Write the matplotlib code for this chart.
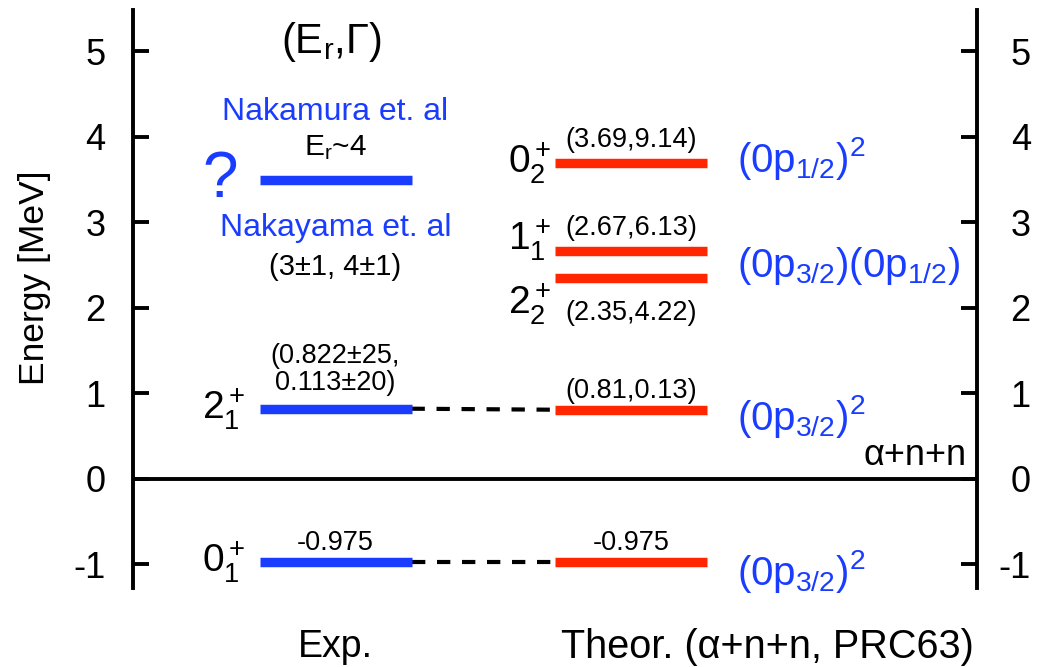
import matplotlib
matplotlib.use("Agg")
import matplotlib.pyplot as plt
import matplotlib.transforms as mtransforms

plt.rcParams['font.family'] = ['Liberation Sans', 'DejaVu Sans']
plt.rcParams['mathtext.fontset'] = 'custom'
plt.rcParams['mathtext.rm'] = 'Liberation Sans'
plt.rcParams['mathtext.it'] = 'Liberation Sans'
plt.rcParams['mathtext.bf'] = 'Liberation Sans:bold'

# ---- data -------------------------------------------------------------
# Experimental levels (MeV)
exp_energies = [-0.975, 0.822, 3.5]
exp_spins = [r'$0^+_1$', r'$2^+_1$', None]
exp_values = ['-0.975', '(0.822±25,\n0.113±20)', None]

# Theoretical levels (alpha+n+n model): resonance energy and width (MeV)
theo_energies = [-0.975, 0.81, 2.35, 2.67, 3.69]
theo_widths = [None, 0.13, 4.22, 6.13, 9.14]
theo_spins = [r'$0^+_1$', None, r'$2^+_2$', r'$1^+_1$', r'$0^+_2$']
theo_configs = [r'$(0p_{3/2})^2$', r'$(0p_{3/2})^2$',
                None, r'$(0p_{3/2})(0p_{1/2})$', r'$(0p_{1/2})^2$']

# pairs of (experimental, theoretical) levels joined by a dashed line
links = [(0, 0), (1, 1)]

yticks = [-1, 0, 1, 2, 3, 4, 5]

# ---- style ------------------------------------------------------------
BLUE = '#1a3cff'
RED = '#ff2600'
EXP_X = (1.5, 3.3)
THEO_X = (5.0, 6.8)
BAR_LW = 6.8
SMALL = 19.5
MID = 23
SPIN = 28
CONF = 29

fig = plt.figure(figsize=(10.5, 6.67), dpi=100)
ax = fig.add_axes([133 / 1050, 1 - 588 / 667, 844 / 1050, 578 / 667])
ax.set_xlim(0, 10)
ax.set_ylim(-1.275, 5.485)

for s in ('top', 'bottom'):
    ax.spines[s].set_visible(False)
for s in ('left', 'right'):
    ax.spines[s].set_linewidth(2.8)
ax.set_xticks([])
ax.set_yticks(yticks)
ax.set_yticklabels([str(t) for t in yticks])
ax.tick_params(axis='y', direction='in', length=11.5, width=2.8,
               left=True, right=True, labelleft=True, labelright=True,
               labelsize=26, pad=20)
# right-hand labels are right-aligned near the figure edge
offset = mtransforms.ScaledTranslation(0.26, 0, fig.dpi_scale_trans)
for tick in ax.yaxis.get_major_ticks():
    tick.label2.set_horizontalalignment('right')
    tick.label2.set_transform(tick.label2.get_transform() + offset)

# threshold line
ax.axhline(0, color='black', lw=2.8, zorder=1)
ax.text(9.88, 0.07, 'α+n+n', ha='right', va='bottom', fontsize=26)

# experimental levels
for e in exp_energies:
    ax.plot(EXP_X, [e, e], color=BLUE, lw=BAR_LW, solid_capstyle='butt', zorder=3)
# theoretical levels
for e in theo_energies:
    ax.plot(THEO_X, [e, e], color=RED, lw=BAR_LW, solid_capstyle='butt', zorder=3)

# dashed connectors
for i, j in links:
    ax.plot([EXP_X[1], THEO_X[0]], [exp_energies[i], theo_energies[j]],
            color='black', lw=3, linestyle=(0, (3.2, 2.8)), zorder=2)

# spin-parity labels
ax.text(0.82, exp_energies[0], exp_spins[0], ha='left', va='center', fontsize=SPIN)
ax.text(0.82, exp_energies[1], exp_spins[1], ha='left', va='center', fontsize=SPIN)
ax.text(4.44, theo_energies[4], theo_spins[4], ha='left', va='center', fontsize=SPIN)
ax.text(4.44, 2.79, theo_spins[3], ha='left', va='center', fontsize=SPIN)
ax.text(4.44, 2.05, theo_spins[2], ha='left', va='center', fontsize=SPIN)

# experimental value labels
xc_exp = 0.5 * (EXP_X[0] + EXP_X[1])
ax.text(xc_exp, exp_energies[0] + 0.23, exp_values[0], ha='center', va='center',
        fontsize=SMALL)
ax.text(xc_exp, exp_energies[1] + 0.46, exp_values[1], ha='center', va='center',
        fontsize=SMALL, linespacing=1.05)

# resonance of unknown assignment
ax.text(1.03, exp_energies[2], '?', color=BLUE, ha='center', va='center', fontsize=46)
ax.text(xc_exp, 4.29, 'Nakamura et. al', color=BLUE, ha='center', va='center', fontsize=MID)
ax.text(xc_exp, 3.87, r'E$_\mathregular{r}$~4', ha='center', va='center', fontsize=21.5)
ax.text(xc_exp, 2.94, 'Nakayama et. al', color=BLUE, ha='center', va='center', fontsize=MID)
ax.text(xc_exp, 2.48, '(3±1, 4±1)', ha='center', va='center', fontsize=21)
ax.text(2.35, 5.11, r'(E$_\mathregular{r}$,Γ)', ha='center', va='center', fontsize=30)

# theoretical value labels
xc_th = 0.5 * (THEO_X[0] + THEO_X[1])
theo_offsets = [0.23, 0.22, -0.41, 0.27, 0.27]
for e, g, dy in zip(theo_energies, theo_widths, theo_offsets):
    label = f'{e}' if g is None else f'({e:.2f},{g:.2f})'
    ax.text(xc_th, e + dy, label, ha='center', va='center', fontsize=SMALL)

# shell-model configurations
config_y = [-1.24, 0.57, None, 2.36, 3.59]
for c, yb in zip(theo_configs, config_y):
    if c is None:
        continue
    ax.text(7.16, yb, c, color=BLUE, ha='left', va='baseline', fontsize=CONF)

# column captions and axis title
ax.text(xc_exp, -1.96, 'Exp.', ha='center', va='center', fontsize=27, clip_on=False)
ax.text(7.52, -1.96, 'Theor. (α+n+n, PRC63)', ha='center', va='center', fontsize=28.5,
        clip_on=False)
ax.text(-1.17, 2.35, 'Energy [MeV]', rotation=90, ha='center', va='center',
        fontsize=25.5, clip_on=False)

fig.savefig('out.png', dpi=100)
